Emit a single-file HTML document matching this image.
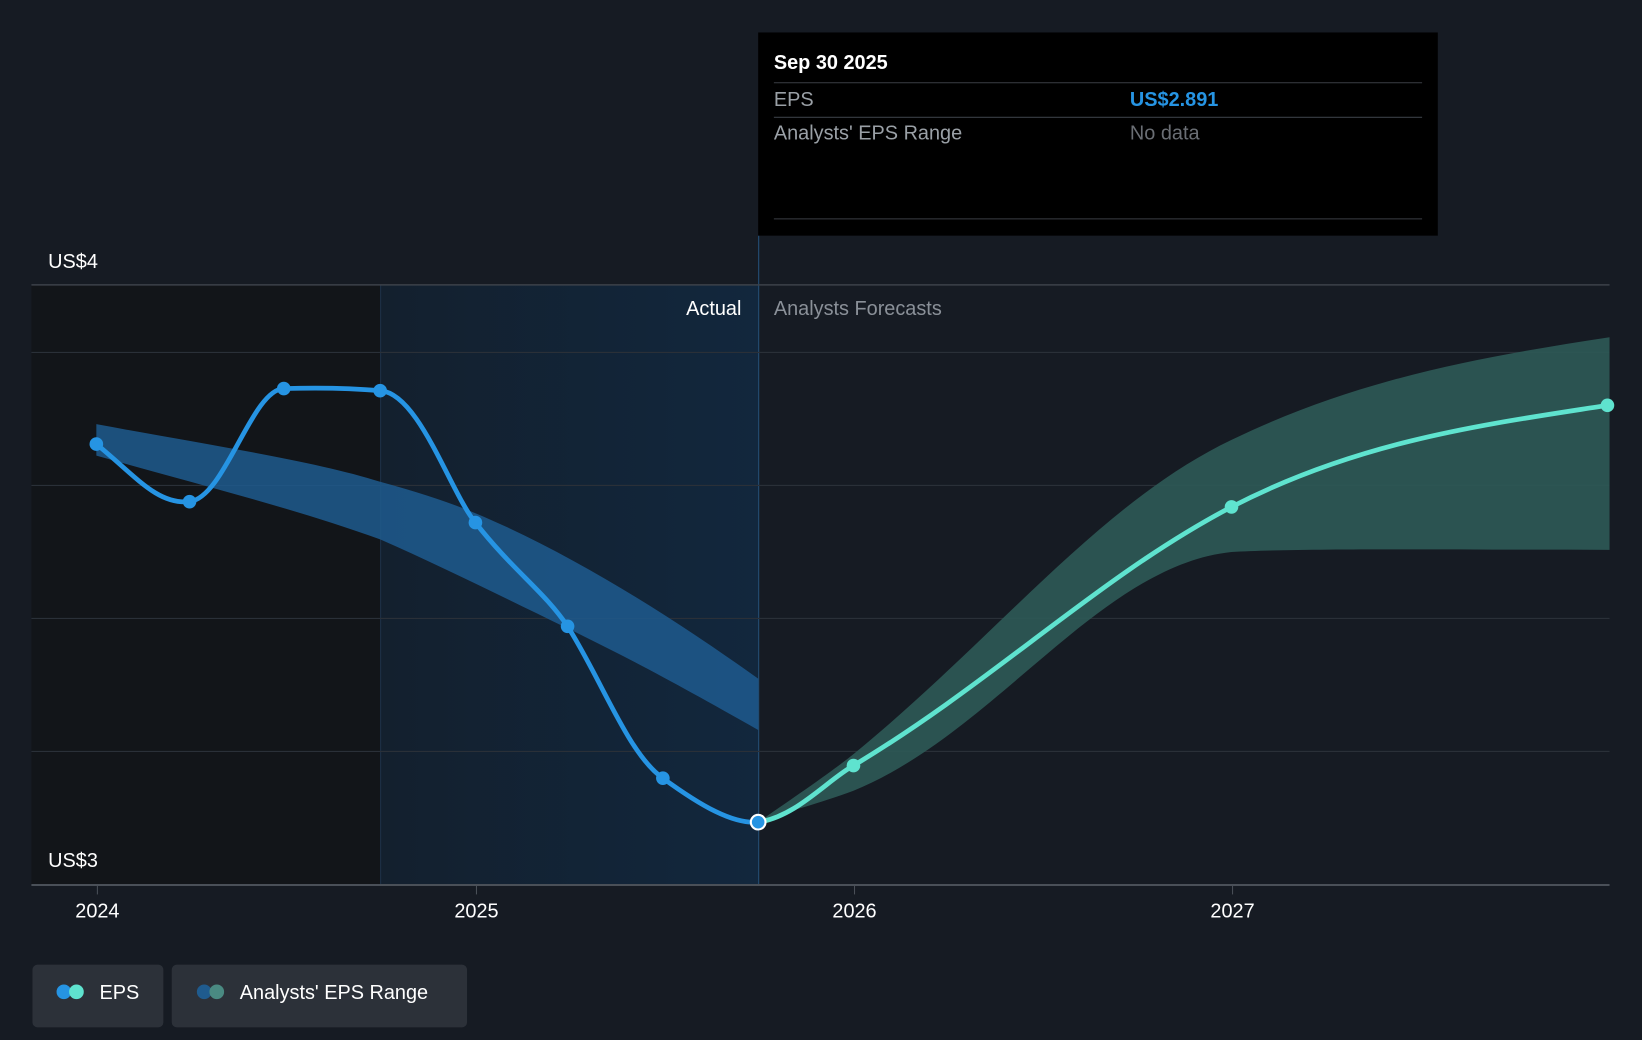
<!DOCTYPE html>
<html><head><style>
html,body{margin:0;padding:0;background:#161b23;}
svg{display:block}
text{font-family:"Liberation Sans",sans-serif;}
</style></head><body>
<svg width="1642" height="1040" viewBox="0 0 1568 993" preserveAspectRatio="none">
<defs>
<linearGradient id="act" x1="0" x2="1" y1="0" y2="0">
<stop offset="0" stop-color="#13202e"/><stop offset="1" stop-color="#12273d"/>
</linearGradient>
</defs>
<rect width="1568" height="993" fill="#161b23"/>
<rect x="30" y="272" width="333" height="573" fill="#121519"/>
<rect x="363" y="272" width="361" height="573" fill="url(#act)"/>
<line x1="363.5" y1="272" x2="363.5" y2="845" stroke="#1d3247"/>
<line x1="724.5" y1="225" x2="724.5" y2="845" stroke="#24507a"/>
<g stroke="#2a3038" stroke-width="1">
<line x1="30" y1="336.5" x2="1537" y2="336.5"/>
<line x1="30" y1="463.5" x2="1537" y2="463.5"/>
<line x1="30" y1="590.5" x2="1537" y2="590.5"/>
<line x1="30" y1="717.5" x2="1537" y2="717.5"/>
</g>
<line x1="30" y1="272" x2="1537" y2="272" stroke="#3c424a" stroke-width="1.5"/>
<line x1="30" y1="845" x2="1537" y2="845" stroke="#4a5058" stroke-width="2"/>
<g stroke="#4a5058"><line x1="93" y1="845" x2="93" y2="854"/><line x1="455" y1="845" x2="455" y2="854"/><line x1="816" y1="845" x2="816" y2="854"/><line x1="1177" y1="845" x2="1177" y2="854"/></g>
<path d="M92,405 C200,425 300,440 363,460 C400,470 430,480 454,490 C550,530 650,595 724,648 L724,697 C650,655 600,628 542,600 C480,570 420,540 363,515 C280,485 180,460 92,435 Z" fill="#1f5b8e" opacity="0.85"/>
<path d="M724,785 C760,760 790,740 815,720 C950,610 1050,480 1176,420 C1300,360 1420,340 1537,322 L1537,525 C1400,525 1250,523 1176,527 C1050,540 950,700 815,755 C780,768 750,775 724,785 Z" fill="#2e5a57" opacity="0.9"/>
<path d="M92,424 C130,455 150,482 181,479 C215,475 240,372 271,371 C305,370 340,371 363,373 C400,375 430,470 454,499 C490,545 520,565 542,598 C575,650 600,720 633,743 C670,770 700,787 724,785" fill="none" stroke="#2694e3" stroke-width="4.5"/>
<path d="M724,785 C760,780 790,745 815,731 C950,650 1050,550 1176,484 C1300,420 1420,405 1535,387" fill="none" stroke="#5fe3cf" stroke-width="4.5"/>
<g fill="#2694e3"><circle cx="92" cy="424" r="6.5"/><circle cx="181" cy="479" r="6.5"/><circle cx="271" cy="371" r="6.5"/><circle cx="363" cy="373" r="6.5"/><circle cx="454" cy="499" r="6.5"/><circle cx="542" cy="598" r="6.5"/><circle cx="633" cy="743" r="6.5"/></g>
<g fill="#5fe3cf"><circle cx="815" cy="731" r="6.5"/><circle cx="1176" cy="484" r="6.5"/><circle cx="1535" cy="387" r="6.5"/></g>
<circle cx="724" cy="785" r="7" fill="#2694e3" stroke="#fff" stroke-width="2"/>
<text x="46" y="256" fill="#fff" font-size="19">US$4</text>
<text x="46" y="828" fill="#fff" font-size="19">US$3</text>
<text x="708" y="301" fill="#fff" font-size="19" text-anchor="end">Actual</text>
<text x="739" y="301" fill="#8a9098" font-size="19">Analysts Forecasts</text>
<g fill="#fff" font-size="19" text-anchor="middle"><text x="93" y="876">2024</text><text x="455" y="876">2025</text><text x="816" y="876">2026</text><text x="1177" y="876">2027</text></g>
<rect x="724" y="31" width="649" height="194" fill="#000"/>
<text x="739" y="66" fill="#fff" font-size="19" font-weight="bold">Sep 30 2025</text>
<line x1="739" y1="79" x2="1358" y2="79" stroke="#3a3e44"/>
<text x="739" y="101" fill="#9aa0a6" font-size="19">EPS</text>
<text x="1079" y="101" fill="#2694e3" font-size="19" font-weight="bold">US$2.891</text>
<line x1="739" y1="112" x2="1358" y2="112" stroke="#3a3e44"/>
<text x="739" y="133" fill="#9aa0a6" font-size="19">Analysts' EPS Range</text>
<text x="1079" y="133" fill="#6a6e74" font-size="19">No data</text>
<line x1="739" y1="209" x2="1358" y2="209" stroke="#3a3e44"/>
<rect x="31" y="921" width="125" height="60" rx="5" fill="#2c3139"/>
<circle cx="61" cy="947" r="7" fill="#2694e3"/><circle cx="73" cy="947" r="7" fill="#5fe3cf"/>
<text x="95" y="954" fill="#fff" font-size="19">EPS</text>
<rect x="164" y="921" width="282" height="60" rx="5" fill="#2c3139"/>
<circle cx="195" cy="947" r="7" fill="#1f5b8e"/><circle cx="207" cy="947" r="7" fill="#4a8a82"/>
<text x="229" y="954" fill="#fff" font-size="19">Analysts' EPS Range</text>
</svg>
</body></html>
